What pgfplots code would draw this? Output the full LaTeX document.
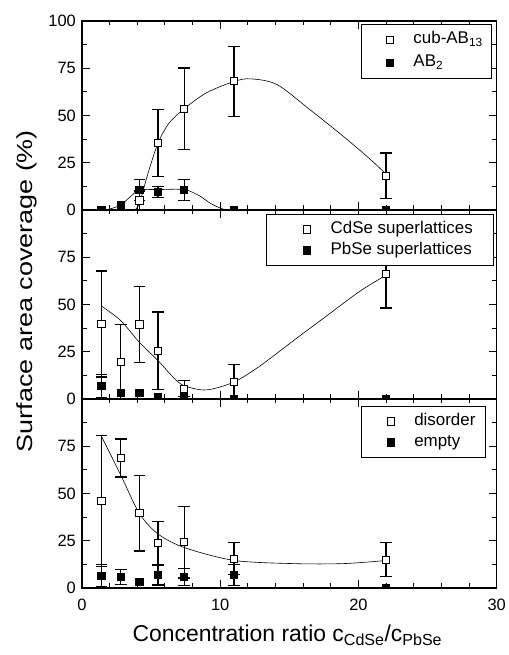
\documentclass[border=0pt]{standalone}
\usepackage{fontspec}
\setmainfont{Liberation Sans}
\usepackage{graphicx}
\usepackage{pgfplots}
\pgfplotsset{compat=1.18}

\pgfplotsset{
  panel/.style={
    scale only axis, width=414.7bp, height=189bp,
    xmin=0, xmax=30, ymin=0, ymax=100,
    xtick={0,10,20,30}, minor x tick num=4,
    ytick={0,25,50,75,100}, minor y tick num=1,
    xtick pos=both, ytick pos=both,
    tick align=inside, major tick length=8bp, minor tick length=4.5bp,
    every tick/.style={black, line width=1.1bp},
    axis line style={line width=1.4bp},
    /pgf/number format/assume math mode=true,
    tick label style={font=\fontsize{16.5}{19}\selectfont},
    xticklabel style={inner sep=0pt, yshift=-11bp},
    yticklabel style={inner sep=0pt, xshift=-6bp},
    clip marker paths=true,
    legend cell align=left,
    legend image code/.code={\draw[draw=none, fill=none] (-19.5bp,-1bp) rectangle (6bp,1bp); \draw[##1] plot coordinates {(0bp,0bp)};},
  },
  lgd/.style={legend style={at={(rel axis cs:#1)}, anchor=north east, draw=black, line width=0.9bp, fill=white,
     column sep=17.5bp, font=\fontsize{17}{20}\selectfont,
     nodes={inner xsep=0bp, inner ysep=0bp, text height=12bp, text depth=4bp}}},
  ebar/.style={forget plot, only marks, mark=none, black,
     error bars/.cd, y dir=both, y explicit,
     error bar style={line width=1.3bp, black},
     error mark options={rotate=90, mark size=5.8bp, line width=1.3bp, black}},
  opensq/.style={only marks, mark=square*, mark size=3.6bp, mark options={fill=white, draw=black, line width=0.9bp}},
  fillsq/.style={only marks, mark=square*, mark size=3.6bp, mark options={fill=black, draw=black, line width=0.9bp}},
  fitline/.style={forget plot, smooth, no marks, black, line width=0.6bp},
}

\begin{document}
\begin{tikzpicture}
\useasboundingbox (0,0) rectangle (509bp,655bp);

% ---------- top panel ----------
\begin{axis}[panel, at={(82bp,445bp)}, anchor=south west,
  xticklabels={},
  lgd={0.989,0.984},
  legend style={inner xsep=9bp, inner ysep=7.5bp, row sep=7bp}]
\addplot[fitline] coordinates {(3.8,0) (4.15,3.5) (4.8,20) (5.5,35.4) (6.3,46) (7.4,53.6) (9,62) (11,68) (12.2,69.4) (14.1,66.4) (16.5,53) (18.9,39) (20.9,26.5) (22.1,18.2)};
\addplot[fitline] coordinates {(1.4,0) (2.0,0.5) (2.8,2.7) (3.5,7) (4.15,10.6) (5.5,10.8) (7.4,10.8) (8.5,7.5) (9.3,3.5) (10.2,0.5) (11,0)};
\addplot[ebar] coordinates {(4.15,5) +- (0,5) (5.5,35.4) +- (0,17.7) (7.4,53.6) +- (0,21.5) (11,68.1) +- (0,18.5) (22,18.2) +- (0,12)};
\addplot[ebar] coordinates {(4.15,10.6) +- (0,5.5) (5.5,9.6) +- (0,3) (7.4,10.6) +- (0,5.5)};
\addplot[opensq] coordinates {(4.15,5) (5.5,35.4) (7.4,53.6) (11,68.1) (22,18.2)};
\addplot[fillsq] coordinates {(1.4,0) (2.8,2.7) (4.15,10.6) (5.5,9.6) (7.4,10.6) (11,0) (22,0)};
\legend{cub-AB\textsubscript{13}, AB\textsubscript{2}}
\end{axis}

% ---------- middle panel ----------
\begin{axis}[panel, at={(82bp,256bp)}, anchor=south west,
  xticklabels={}, yticklabels={0,25,50,75,{}},
  lgd={0.994,0.979},
  legend style={inner xsep=21bp, inner ysep=7bp, row sep=5bp},
  ylabel={\fontsize{22}{26}\selectfont\scalebox{1.23}[1]{Surface area coverage (\%)}},
  ylabel style={at={(rel axis cs:-0.1326,0.571)}, anchor=center, rotate=0}]
\addplot[fitline] coordinates {(1.4,49.2) (2.8,41.5) (4.15,30) (5.5,20.3) (6.6,11.5) (7.4,7) (9,4.8) (11,9) (12.9,17.6) (15.3,30.9) (17.7,44) (20.1,57) (22.1,66)};
\addplot[ebar] coordinates {(1.4,39.7) +- (0,28) (2.8,19.6) +- (0,20) (4.15,39.4) +- (0,20) (5.5,25.6) +- (0,20.5) (7.4,5.5) +- (0,4.2) (11,9.2) +- (0,9) (22,66.2) +- (0,18)};
\addplot[ebar] coordinates {(1.4,6.9) +- (0,6)};
\addplot[opensq] coordinates {(1.4,39.7) (2.8,19.6) (4.15,39.4) (5.5,25.6) (7.4,5.5) (11,9.2) (22,66.2)};
\addplot[fillsq] coordinates {(1.4,6.9) (2.8,3) (4.15,3) (5.5,1.2) (7.4,0.8) (11,0) (22,0)};
\legend{CdSe superlattices, PbSe superlattices}
\end{axis}

% ---------- bottom panel ----------
\begin{axis}[panel, at={(82bp,67bp)}, anchor=south west,
  xticklabels={0,10,20,30}, yticklabels={0,25,50,75,{}},
  lgd={0.974,0.963},
  legend style={inner xsep=10bp, inner ysep=7bp, row sep=5bp},
  xlabel={\fontsize{23}{27}\selectfont Concentration ratio c\textsubscript{CdSe}/c\textsubscript{PbSe}},
  xlabel style={at={(rel axis cs:0.5,0)}, anchor=north, inner sep=0pt, yshift=-37bp, xshift=-2bp}]
\addplot[fitline] coordinates {(1.4,80.4) (2.8,59.8) (4.15,39.5) (5.5,28.6) (7.4,21.4) (11,14.6) (15.3,12.9) (18.9,12.9) (22.1,14.6)};
\addplot[ebar] coordinates {(1.4,46) +- (0,34.6) (2.8,68.8) +- (0,10) (4.15,39.5) +- (0,20) (5.5,23.8) +- (0,11.5) (7.4,24.3) +- (0,19) (11,15.5) +- (0,8.5) (22,15) +- (0,9)};
\addplot[ebar] coordinates {(1.4,6.5) +- (0,6) (2.8,5.7) +- (0,4) (5.5,6.9) +- (0,5.3) (7.4,5.7) +- (0,4.5) (11,6.9) +- (0,5.5)};
\addplot[opensq] coordinates {(1.4,46) (2.8,68.8) (4.15,39.5) (5.5,23.8) (7.4,24.3) (11,15.5) (22,15)};
\addplot[fillsq] coordinates {(1.4,6.5) (2.8,5.7) (4.15,3.4) (5.5,6.9) (7.4,5.7) (11,6.9) (22,0)};
\legend{disorder, empty}
\end{axis}
\end{tikzpicture}
\end{document}
